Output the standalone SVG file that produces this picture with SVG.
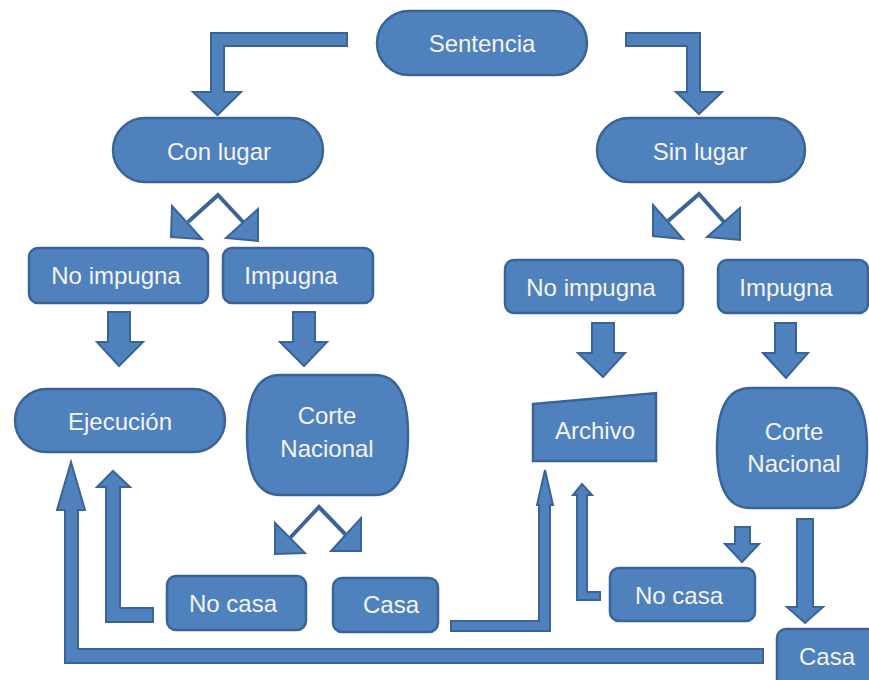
<svg xmlns="http://www.w3.org/2000/svg" width="869" height="680" viewBox="0 0 869 680">
<style>
.n{fill:#4f81bd;stroke:#3a6496;stroke-width:2.5}
.a{fill:#4f81bd;stroke:#3a6496;stroke-width:2;stroke-linejoin:miter}
.l{fill:none;stroke:#3a6496;stroke-width:4}
.t{font-family:"Liberation Sans",Arial,sans-serif;font-size:24px;fill:#f4f4f4;text-anchor:middle}
</style>
<rect width="869" height="680" fill="#ffffff"/>
<g id="connectors">
<path class="a" d="M347 33 L211 33 L211 92 L193 92 L217.5 115 L241 92 L224 92 L224 46 L347 46 Z"/>
<path class="a" d="M626 33 L700 33 L700 92 L722 92 L699 114 L676 92 L687 92 L687 46 L626 46 Z"/>
<polyline class="l" points="188,222 218,195 244,223"/>
<polygon class="a" points="172,206 171,237 202,239"/>
<polygon class="a" points="258,209 258,241 226,238"/>
<polyline class="l" points="668,221 699,194 724,222"/>
<polygon class="a" points="653,205 653,236 683,239"/>
<polygon class="a" points="740,208 740,240 707,237"/>
<path class="a" d="M108 312 L130 312 L130 342 L143 342 L119 366 L97 342 L108 342 Z"/>
<path class="a" d="M293 312 L315 312 L315 342 L327 342 L304 366 L280 342 L293 342 Z"/>
<path class="a" d="M592 323 L614 323 L614 353 L625 353 L603 377 L578 353 L592 353 Z"/>
<path class="a" d="M775 323 L796 323 L796 353 L808 353 L786 378 L763 353 L775 353 Z"/>
<polyline class="l" points="290,538 319,507 346,535"/>
<polygon class="a" points="275,523 275,554 305,553"/>
<polygon class="a" points="361,518 361,551 331,551"/>
<path class="a" d="M763 649 L78 649 L78 510 L85 510 L71 462 L57 510 L65 510 L65 663 L763 663 Z"/>
<path class="a" d="M153 608 L120 608 L120 487 L130 487 L113 471 L97 487 L106 487 L106 622 L153 622 Z"/>
<path class="a" d="M451 621 L539 621 L539 505 L537 505 L545 470 L553 505 L550 505 L550 631 L451 631 Z"/>
<path class="a" d="M600 592 L587 592 L587 495 L592 495 L582 484 L573 495 L577 495 L577 600 L600 600 Z"/>
<path class="a" d="M735 527 L750 527 L750 544 L759 544 L742 562 L725 544 L735 544 Z"/>
<path class="a" d="M797 519 L813 519 L813 607 L823 607 L805 623 L787 607 L797 607 Z"/>
</g>
<g id="sentencia"><rect class="n" x="377" y="11" width="210" height="64" rx="32"/><text class="t" x="482" y="52">Sentencia</text></g>
<g id="con-lugar"><rect class="n" x="113" y="118" width="210" height="64" rx="32"/><text class="t" x="219" y="160">Con lugar</text></g>
<g id="sin-lugar"><rect class="n" x="597" y="118" width="208" height="64" rx="32"/><text class="t" x="700" y="160">Sin lugar</text></g>
<g id="no-impugna-1"><rect class="n" x="29" y="248" width="179" height="55" rx="9"/><text class="t" x="116" y="284">No impugna</text></g>
<g id="impugna-1"><rect class="n" x="223" y="248" width="150" height="55" rx="9"/><text class="t" x="291" y="284">Impugna</text></g>
<g id="no-impugna-2"><rect class="n" x="505" y="260" width="178" height="53" rx="9"/><text class="t" x="591" y="296">No impugna</text></g>
<g id="impugna-2"><rect class="n" x="718" y="260" width="150" height="53" rx="9"/><text class="t" x="786" y="296">Impugna</text></g>
<g id="ejecucion"><rect class="n" x="15" y="389" width="210" height="63" rx="31.5"/><text class="t" x="120" y="430">Ejecución</text></g>
<g id="corte-nacional-1"><path class="n" d="M280 375 H375 Q408 375 408 435 Q408 495 375 495 H280 Q247 495 247 435 Q247 375 280 375 Z"/><text class="t" x="327" y="424">Corte</text><text class="t" x="327" y="457">Nacional</text></g>
<g id="archivo"><polygon class="n" points="533,404 656,393 656,461 533,461"/><text class="t" x="595" y="439">Archivo</text></g>
<g id="corte-nacional-2"><path class="n" d="M750 388 H834 Q867 388 867 448 Q867 508 834 508 H750 Q717 508 717 448 Q717 388 750 388 Z"/><text class="t" x="794" y="440">Corte</text><text class="t" x="794" y="472">Nacional</text></g>
<g id="no-casa-1"><rect class="n" x="167" y="576" width="139" height="54" rx="9"/><text class="t" x="233" y="612">No casa</text></g>
<g id="casa-1"><rect class="n" x="333" y="578" width="105" height="54" rx="9"/><text class="t" x="391" y="613">Casa</text></g>
<g id="no-casa-2"><rect class="n" x="610" y="568" width="145" height="53" rx="9"/><text class="t" x="679" y="604">No casa</text></g>
<g id="casa-2"><rect class="n" x="777" y="629" width="100" height="60" rx="9"/><text class="t" x="827" y="665">Casa</text></g>
</svg>
